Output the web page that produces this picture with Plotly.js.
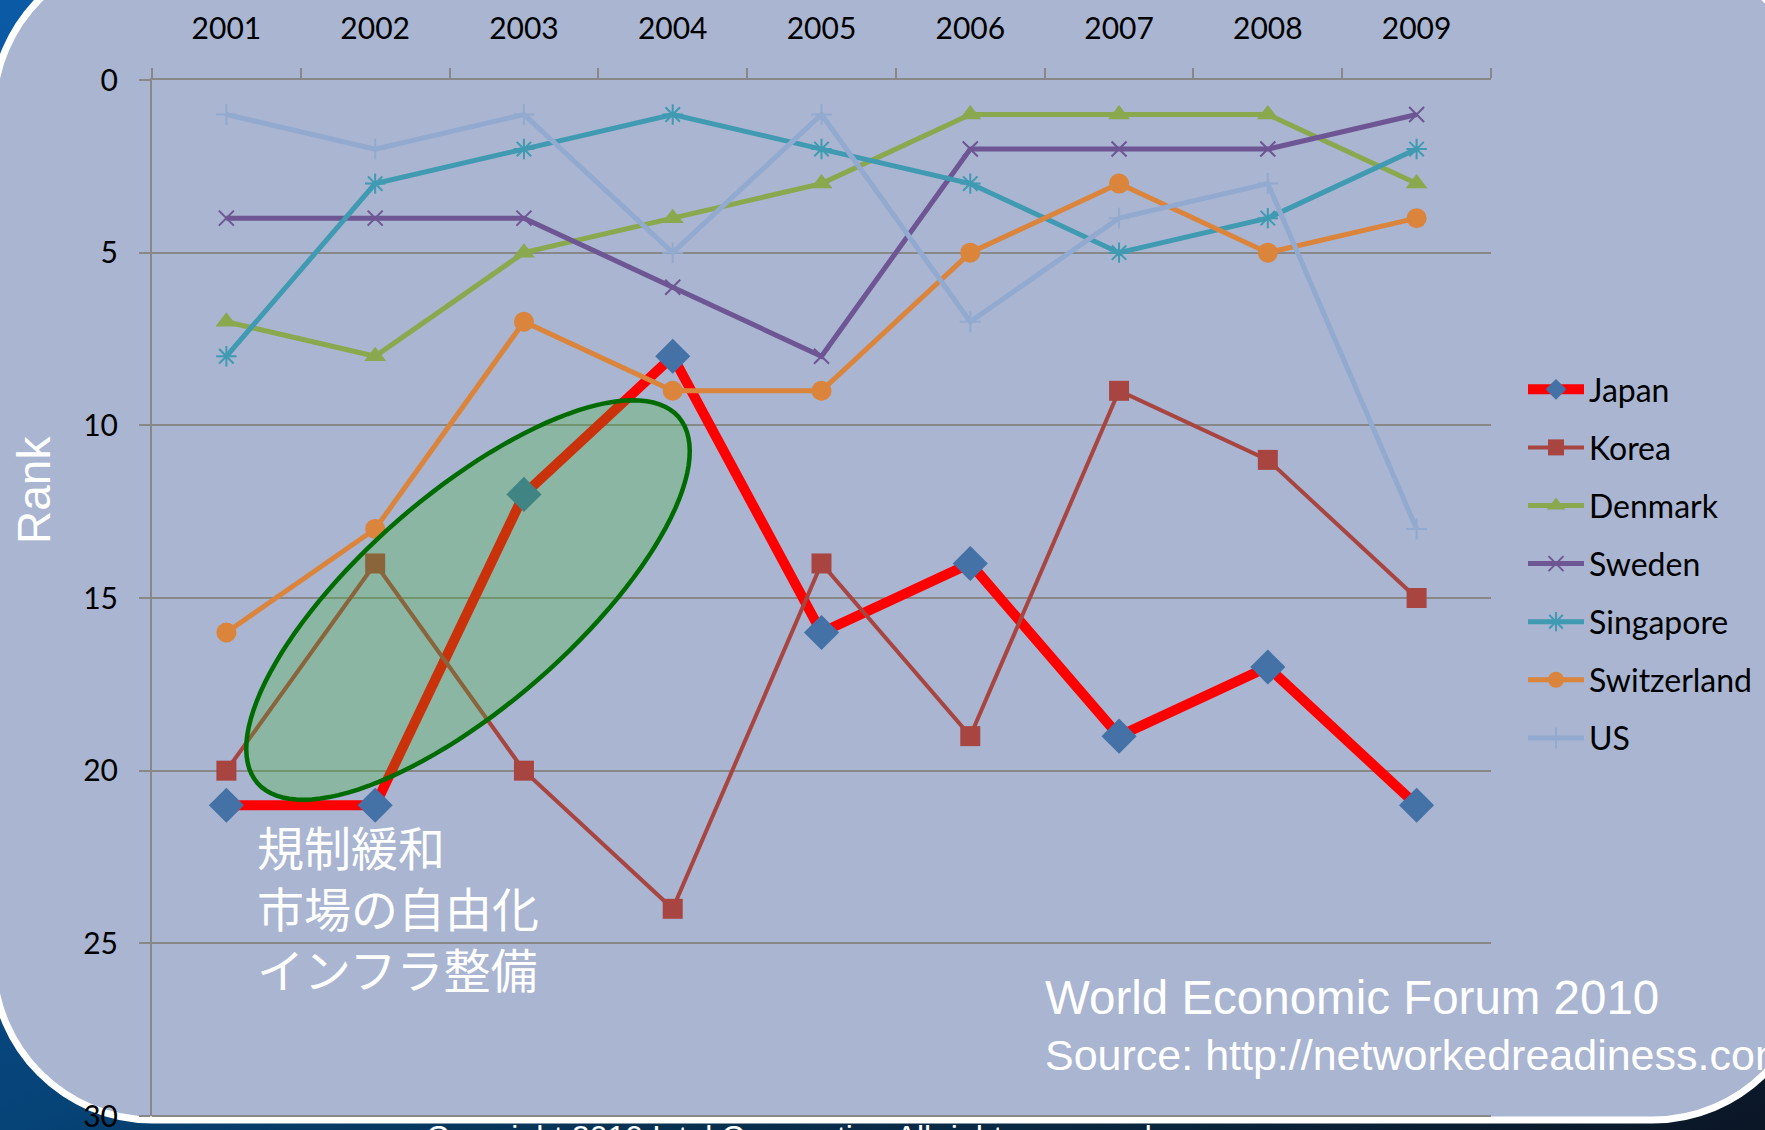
<!DOCTYPE html>
<html><head><meta charset="utf-8">
<script src="https://cdn.plot.ly/plotly-3.0.1.min.js"></script>
<style>
html,body{margin:0;padding:0;width:1765px;height:1130px;overflow:hidden;
background:linear-gradient(155deg,#0b5aa6 0%,#0a4f93 35%,#064377 58%,#08304f 74%,#0b1626 100%);}
#chart{width:1765px;height:1130px;}
</style></head><body><div id="chart"></div>
<script>
// ---- data ----
const years = ['2001','2002','2003','2004','2005','2006','2007','2008','2009'];
const japan       = [21,21,12, 8,16,14,19,17,21];
const korea       = [20,14,20,24,14,19, 9,11,15];
const denmark     = [ 7, 8, 5, 4, 3, 1, 1, 1, 3];
const sweden      = [ 4, 4, 4, 6, 8, 2, 2, 2, 1];
const singapore   = [ 8, 3, 2, 1, 2, 3, 5, 4, 2];
const switzerland = [16,13, 7, 9, 9, 5, 3, 5, 4];
const us          = [ 1, 2, 1, 5, 1, 7, 4, 3,13];
const yTicks = [0,5,10,15,20,25,30];
const seriesNames = ['Japan','Korea','Denmark','Sweden','Singapore','Switzerland','US'];
const noteText = '規制緩和<br>市場の自由化<br>インフラ整備';
const sourceTitle = 'World Economic Forum 2010';
const sourceUrl = 'Source: http://networkedreadiness.com';
const copyright = 'Copyright 2010 Intel Corporation All rights reserved';

// ---- geometry ----
const W=1765,H=1130,ML=152,MR=274,MT=80,MB=14;
const PW=W-ML-MR, PH=H-MT-MB;
const px2x = p => (p-ML)/PW;
const px2y = p => (H-MB-p)/PH;
const P = (x,y) => px2x(x).toFixed(5)+','+px2y(y).toFixed(5);

function rrectPath(x0,y0,x1,y1,r){
  const k=0.5523*r;
  return 'M'+P(x0+r,y0)+' L'+P(x1-r,y0)+' C'+P(x1-r+k,y0)+' '+P(x1,y0+r-k)+' '+P(x1,y0+r)
   +' L'+P(x1,y1-r)+' C'+P(x1,y1-r+k)+' '+P(x1-r+k,y1)+' '+P(x1-r,y1)
   +' L'+P(x0+r,y1)+' C'+P(x0+r-k,y1)+' '+P(x0,y1-r+k)+' '+P(x0,y1-r)
   +' L'+P(x0,y0+r)+' C'+P(x0,y0+r-k)+' '+P(x0+r-k,y0)+' '+P(x0+r,y0)+' Z';
}
function ellipsePath(cx,cy,a,b,deg){
  const th=deg*Math.PI/180, c=Math.cos(th), s=Math.sin(th);
  let d='';
  for(let i=0;i<=120;i++){
    const t=i/120*2*Math.PI;
    const x=cx + a*Math.cos(t)*c - b*Math.sin(t)*s;
    const y=cy - (a*Math.cos(t)*s + b*Math.sin(t)*c);
    d += (i===0?'M':' L') + P(x,y);
  }
  return d+' Z';
}

function series(name, y, color, lw, symbol, size, open){
  const m = {symbol:symbol, size:size, color:color};
  m.line = open ? {width:2, color:color} : {width:0};
  return {type:'scatter', mode:'lines+markers', name:name, x:years, y:y,
    legendgroup:name, line:{color:color, width:lw}, marker:m, cliponaxis:false};
}

const data = [
  series(seriesNames[0], japan, '#ff0000', 10, 'diamond', 27, false),
  series(seriesNames[1], korea, '#a84541', 4, 'square', 20, false),
  series(seriesNames[2], denmark, '#8aa84d', 5, 'triangle-up', 19, false),
  series(seriesNames[3], sweden, '#6e5593', 5, 'x-thin-open', 15, true),
  series(seriesNames[4], singapore, '#3f9ab2', 5, 'asterisk-open', 17, true),
  series(seriesNames[5], switzerland, '#db843c', 5, 'circle', 20, false),
  series(seriesNames[6], us, '#93aad0', 5, 'cross-thin-open', 15, true)
];
data[0].marker.color = '#4471a6';

const tickFont = {family:'Lato, "Open Sans", sans-serif', size:30, color:'#000'};

const layout = {
  width:W, height:H,
  margin:{l:ML, r:MR, t:MT, b:MB, pad:0, autoexpand:false},
  paper_bgcolor:'rgba(0,0,0,0)', plot_bgcolor:'rgba(0,0,0,0)',
  showlegend:true,
  xaxis:{type:'category', side:'top', range:[-0.5,8.5], showgrid:false, zeroline:false,
    showline:true, linecolor:'#888', linewidth:2, ticks:'outside', tickson:'boundaries',
    ticklen:10, tickwidth:2, tickcolor:'#888', tickfont:tickFont, ticklabelstandoff:27,
    ticklabeloverflow:'allow', automargin:false, fixedrange:true},
  yaxis:{range:[30,0], tickvals:yTicks, ticktext:yTicks.map(String), showgrid:true, gridcolor:'#888', gridwidth:2,
    zeroline:false, showline:true, linecolor:'#888', linewidth:2, ticks:'outside', ticklen:11,
    tickwidth:2, tickcolor:'#888', tickfont:tickFont, ticklabelstandoff:15,
    ticklabeloverflow:'allow', automargin:false, fixedrange:true},
  legend:{x:px2x(1523), y:px2y(564), xanchor:'left', yanchor:'middle', bgcolor:'rgba(0,0,0,0)',
    font:{family:'Lato, "Open Sans", sans-serif', size:32, color:'#000'}, tracegroupgap:13.5,
    itemwidth:56, traceorder:'grouped'},
  shapes:[
    {type:'path', xref:'paper', yref:'paper', layer:'below', path:rrectPath(-7,-48,1812,1120,160),
      fillcolor:'#a9b5d1', line:{color:'#ffffff', width:7}},
    {type:'line', xref:'paper', yref:'paper', layer:'between', x0:0, x1:1, y0:0, y1:0,
      line:{color:'#888', width:2}},
    {type:'path', xref:'paper', yref:'paper', layer:'above', path:ellipsePath(468,600,279,106,41),
      fillcolor:'rgba(60,185,40,0.27)', line:{color:'#006b00', width:4.5}}
  ],
  annotations:[
    {text:'Rank', xref:'paper', yref:'paper', x:px2x(34), y:px2y(490), textangle:-90,
      showarrow:false, xanchor:'center', yanchor:'middle',
      font:{family:'"Liberation Sans", Arial, sans-serif', size:46, color:'#fff'}},
    {text:noteText, xref:'paper', yref:'paper', x:px2x(255), y:px2y(906), showarrow:false,
      xanchor:'left', yanchor:'middle', align:'left',
      font:{family:'"Noto Sans CJK JP", sans-serif', size:47, color:'#fff'}},
    {text:sourceTitle, xref:'paper', yref:'paper', x:px2x(1043), y:px2y(997), showarrow:false,
      xanchor:'left', yanchor:'middle', font:{family:'"Liberation Sans", Arial, sans-serif', size:47.5, color:'#fff'}},
    {text:sourceUrl, xref:'paper', yref:'paper', x:px2x(1043), y:px2y(1055), showarrow:false,
      xanchor:'left', yanchor:'middle', font:{family:'"Liberation Sans", Arial, sans-serif', size:43, color:'#fff'}},
    {text:copyright, xref:'paper', yref:'paper', x:px2x(789), y:px2y(1117), showarrow:false,
      xanchor:'center', yanchor:'top', font:{family:'"Liberation Sans", Arial, sans-serif', size:32, color:'#fff'}}
  ]
};

Plotly.newPlot('chart', data, layout, {displayModeBar:false, staticPlot:true});
</script></body></html>
